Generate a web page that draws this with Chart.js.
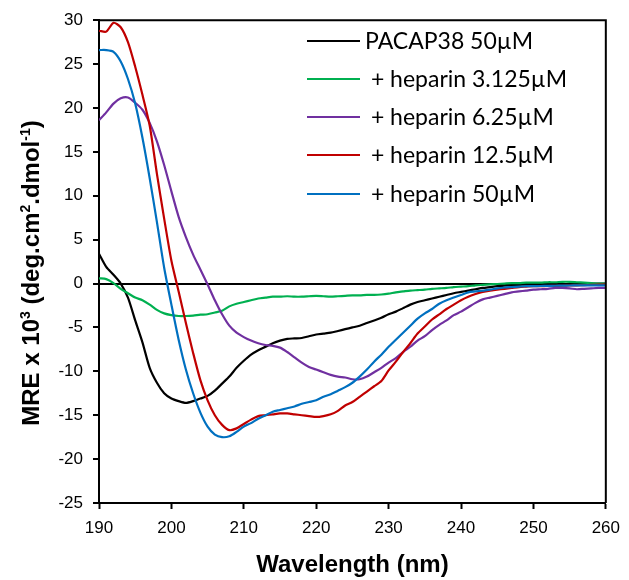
<!DOCTYPE html>
<html>
<head>
<meta charset="utf-8">
<script src="https://cdn.jsdelivr.net/npm/chart.js@4.4.1/dist/chart.umd.min.js"></script>
<style>
html,body{margin:0;padding:0;background:#fff;}
#c{display:block;}
</style>
</head>
<body>
<canvas id="c" width="629" height="580"></canvas>
<script>
// ---- DATA ----
const wavelengths = [190,191,192,193,194,195,196,197,198,199,200,201,202,203,204,205,206,207,208,209,210,211,212,213,214,215,216,217,218,219,220,221,222,223,224,225,226,227,228,229,230,231,232,233,234,235,236,237,238,239,240,241,242,243,244,245,246,247,248,249,250,251,252,253,254,255,256,257,258,259,260];

const pacap38 = [3.4,1.9,1.0,0.0,-1.6,-4.2,-6.7,-9.6,-11.3,-12.5,-13.1,-13.4,-13.6,-13.4,-13.1,-12.8,-12.2,-11.4,-10.6,-9.6,-8.8,-8.1,-7.6,-7.2,-6.8,-6.5,-6.3,-6.25,-6.2,-6.0,-5.8,-5.7,-5.6,-5.4,-5.2,-5.0,-4.8,-4.5,-4.2,-3.9,-3.5,-3.2,-2.8,-2.4,-2.1,-1.9,-1.7,-1.5,-1.3,-1.1,-0.95,-0.8,-0.65,-0.5,-0.4,-0.3,-0.25,-0.2,-0.15,-0.12,-0.1,-0.1,-0.08,-0.06,-0.05,-0.05,-0.04,-0.03,-0.02,-0.02,-0.02];

const hep3125 = [0.6,0.5,0.05,-0.6,-1.1,-1.6,-1.9,-2.4,-3.0,-3.4,-3.6,-3.7,-3.7,-3.65,-3.55,-3.5,-3.3,-3.1,-2.6,-2.3,-2.1,-1.9,-1.7,-1.6,-1.5,-1.5,-1.45,-1.5,-1.5,-1.45,-1.4,-1.45,-1.5,-1.45,-1.4,-1.35,-1.35,-1.3,-1.3,-1.25,-1.15,-1.0,-0.9,-0.8,-0.75,-0.7,-0.6,-0.55,-0.5,-0.4,-0.35,-0.3,-0.2,-0.15,-0.1,-0.05,0,0.05,0.05,0.1,0.1,0.1,0.15,0.15,0.2,0.2,0.15,0.1,0.05,0.0,0.0];

const hep625 = [18.6,19.5,20.5,21.1,21.2,20.6,19.8,18.3,16.2,13.5,10.5,7.6,5.3,3.3,1.6,-0.1,-1.9,-3.5,-4.8,-5.6,-6.1,-6.5,-6.8,-7.0,-7.1,-7.3,-7.8,-8.4,-9.0,-9.5,-9.8,-10.1,-10.4,-10.6,-10.7,-10.9,-10.9,-10.6,-10.1,-9.6,-9.0,-8.5,-7.8,-7.2,-6.5,-6.0,-5.3,-4.7,-4.2,-3.6,-3.2,-2.7,-2.2,-1.8,-1.6,-1.4,-1.2,-1.0,-0.9,-0.8,-0.7,-0.65,-0.6,-0.5,-0.5,-0.55,-0.65,-0.6,-0.55,-0.5,-0.5];

const hep125 = [28.8,28.7,29.7,29.2,27.5,24.7,21.5,18.0,12.5,7.4,2.6,-0.9,-4.5,-7.9,-11.0,-13.3,-15.0,-16.1,-16.7,-16.5,-16.0,-15.5,-15.1,-15.0,-14.9,-14.8,-14.8,-14.9,-15.0,-15.1,-15.2,-15.1,-14.9,-14.5,-13.9,-13.5,-12.9,-12.3,-11.7,-11.1,-9.9,-8.9,-7.8,-6.8,-5.7,-4.9,-4.1,-3.5,-2.9,-2.4,-1.9,-1.5,-1.2,-0.95,-0.8,-0.7,-0.6,-0.5,-0.4,-0.35,-0.3,-0.3,-0.28,-0.26,-0.25,-0.22,-0.2,-0.18,-0.15,-0.12,-0.1];

const hep50 = [26.6,26.6,26.4,25.3,23.3,20.5,16.6,12.0,7.0,1.8,-2.4,-6.4,-9.8,-12.5,-14.7,-16.3,-17.2,-17.5,-17.4,-16.9,-16.3,-15.9,-15.4,-15.0,-14.6,-14.4,-14.2,-14.0,-13.7,-13.5,-13.3,-12.9,-12.6,-12.2,-11.8,-11.3,-10.6,-9.8,-8.9,-8.1,-7.2,-6.4,-5.6,-4.8,-4.0,-3.4,-2.9,-2.3,-1.9,-1.6,-1.3,-1.0,-0.9,-0.8,-0.7,-0.55,-0.45,-0.4,-0.35,-0.3,-0.3,-0.28,-0.26,-0.25,-0.24,-0.22,-0.2,-0.2,-0.2,-0.2,-0.2];

const seriesLabels = ["PACAP38 50\u00B5M"," + heparin 3.125\u00B5M"," + heparin 6.25\u00B5M"," + heparin 12.5\u00B5M"," + heparin 50\u00B5M"];
const seriesValues = [pacap38, hep3125, hep625, hep125, hep50];
const seriesColors = ["#000000","#00B050","#7030A0","#C00000","#0070C0"];

const xTicks = [190,200,210,220,230,240,250,260];
const yTicks = [-25,-20,-15,-10,-5,0,5,10,15,20,25,30];

const xTitle = "Wavelength (nm)";
const yTitleParts = [["MRE x 10",false],["3",true],[" (deg.cm",false],["2",true],[".dmol",false],["-1",true],[")",false]];

// ---- CHART ----
const datasets = seriesValues.map((vals,i)=>({
  label: seriesLabels[i],
  data: wavelengths.map((w,j)=>({x:w,y:vals[j]})),
  borderColor: seriesColors[i],
  backgroundColor: seriesColors[i],
  borderWidth: 2.2,
  pointRadius: 0,
  tension: 0.25,
  fill: false,
  order: seriesValues.length - 1 - i
}));

const tickFont = {family: "'Liberation Sans', Arial, sans-serif", size: 17};

const decorPlugin = {
  id: 'decor',
  afterDraw(chart) {
    const ctx = chart.ctx;
    const a = chart.chartArea;
    ctx.save();
    // frame top & right
    ctx.strokeStyle = '#000';
    ctx.lineWidth = 2;
    ctx.beginPath();
    ctx.moveTo(a.left, a.top);
    ctx.lineTo(a.right, a.top);
    ctx.lineTo(a.right, a.bottom);
    ctx.stroke();

    // legend
    const legX0 = 307, legX1 = 360, legTextX = 365;
    const legY = [41, 79, 117, 155, 194];
    ctx.font = "23px Lato, 'Open Sans', sans-serif";
    ctx.textBaseline = 'alphabetic';
    ctx.textAlign = 'left';
    chart.data.datasets.forEach((ds, i) => {
      ctx.strokeStyle = ds.borderColor;
      ctx.lineWidth = 2;
      ctx.beginPath();
      ctx.moveTo(legX0, legY[i]);
      ctx.lineTo(legX1, legY[i]);
      ctx.stroke();
      ctx.fillStyle = '#000';
      ctx.fillText(ds.label, legTextX, legY[i] + 8);
    });

    // x title
    ctx.fillStyle = '#000';
    ctx.font = "bold 24px 'Liberation Sans', Arial, sans-serif";
    ctx.textAlign = 'center';
    ctx.fillText(xTitle, (a.left + a.right) / 2, 572);

    // y title (rotated, with superscripts)
    const mainF = "bold 24px 'Liberation Sans', Arial, sans-serif";
    const supF = "bold 14px 'Liberation Sans', Arial, sans-serif";
    let total = 0;
    const widths = yTitleParts.map(([t, sup]) => {
      ctx.font = sup ? supF : mainF;
      const w = ctx.measureText(t).width;
      total += w;
      return w;
    });
    ctx.translate(39, 273);
    ctx.rotate(-Math.PI / 2);
    ctx.textAlign = 'left';
    let x = -total / 2;
    yTitleParts.forEach(([t, sup], i) => {
      ctx.font = sup ? supF : mainF;
      ctx.fillText(t, x, sup ? -9 : 0);
      x += widths[i];
    });
    ctx.restore();
  }
};

new Chart(document.getElementById('c'), {
  type: 'line',
  data: { datasets },
  options: {
    responsive: false,
    animation: false,
    layout: { padding: { top: 17, right: 20, left: 0, bottom: 0 } },
    plugins: { legend: { display: false }, tooltip: { enabled: false } },
    scales: {
      x: {
        type: 'linear',
        min: 190, max: 260,
        afterFit(s) { s.height = 77; },
        afterBuildTicks(s) { s.ticks = xTicks.map(v => ({value: v})); },
        ticks: { font: tickFont, color: '#000', padding: 9, maxRotation: 0 },
        grid: { drawOnChartArea: false, tickLength: 6, tickColor: '#000', tickWidth: 2 },
        border: { display: true, color: '#000', width: 2 }
      },
      y: {
        min: -25, max: 30,
        afterFit(s) { s.width = 99; },
        afterBuildTicks(s) { s.ticks = yTicks.map(v => ({value: v})); },
        ticks: { font: tickFont, color: '#000', padding: 10 },
        grid: {
          drawOnChartArea: true,
          color: c => (c.tick && c.tick.value === 0) ? '#000' : 'rgba(0,0,0,0)',
          lineWidth: 2,
          tickLength: 6, tickColor: '#000', tickWidth: 2
        },
        border: { display: true, color: '#000', width: 2 }
      }
    }
  },
  plugins: [decorPlugin]
});
</script>
</body>
</html>
